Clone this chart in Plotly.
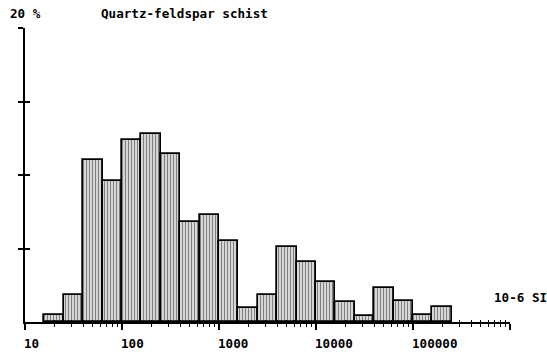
import math
import plotly.graph_objects as go

# Bin lower edges (10^-6 SI), bins are 0.2 decade wide
bin_lower = [15.8, 25.1, 39.8, 63.1, 100, 158, 251, 398, 631, 1000, 1585, 2512,
             3981, 6310, 10000, 15849, 25119, 39811, 63096, 100000, 158489]
percent = [0.46, 1.87, 11.0, 9.6, 12.4, 12.8, 11.4, 6.8, 7.3, 5.5, 0.98, 1.82,
           5.1, 4.1, 2.7, 1.36, 0.41, 2.3, 1.41, 0.46, 1.02]
bin_width_decades = 0.2

decade_values = [10, 100, 1000, 10000, 100000, 1000000]
decade_labels = ["10", "100", "1000", "10000", "100000"]
y_ticks = [5, 10, 15, 20]

title_text = "Quartz-feldspar schist"
y_unit_text = "20 %"
x_unit_text = "10-6 SI"

FONT = dict(family="DejaVu Sans Mono", size=12.6, color="black")

centers = [math.log10(v) + bin_width_decades / 2 for v in bin_lower]
minor_vals = [math.log10(k * d) for d in decade_values[:-1] for k in range(2, 10)]
major_vals = [math.log10(v) for v in decade_values]

fig = go.Figure()
fig.add_trace(go.Bar(
    x=centers, y=percent, width=bin_width_decades,
    marker=dict(color="white",
                line=dict(color="black", width=1.7),
                pattern=dict(shape="|", fgcolor="black", bgcolor="white",
                             size=3, solidity=0.55)),
    showlegend=False, hoverinfo="skip"))
# invisible trace to activate the overlay axes (upper halves of the crossing ticks)
fig.add_trace(go.Scatter(x=[1], y=[0], xaxis="x2", yaxis="y2", mode="markers",
                         marker=dict(opacity=0), showlegend=False,
                         hoverinfo="skip"))

fig.update_layout(
    width=547, height=355,
    margin=dict(l=25, r=37, t=28, b=33),
    paper_bgcolor="white", plot_bgcolor="white",
    bargap=0,
    xaxis=dict(range=[1, 6], showgrid=False, zeroline=False,
               showline=True, linecolor="black", linewidth=2,
               tickvals=major_vals,
               ticks="outside", ticklen=6, tickwidth=1.5, tickcolor="black",
               showticklabels=False,
               minor=dict(tickvals=minor_vals, ticks="outside", ticklen=3,
                          tickwidth=1.2, tickcolor="black")),
    xaxis2=dict(range=[1, 6], overlaying="x", side="bottom", anchor="y2",
                showgrid=False, zeroline=False, showline=False,
                tickvals=minor_vals + [6], ticks="inside", ticklen=2,
                tickwidth=1.2, tickcolor="black", showticklabels=False),
    yaxis=dict(range=[0, 20], showgrid=False, zeroline=False,
               showline=True, linecolor="black", linewidth=2,
               tickvals=y_ticks, ticks="outside", ticklen=5, tickwidth=1.5,
               tickcolor="black", showticklabels=False),
    yaxis2=dict(range=[0, 20], overlaying="y", side="left", anchor="x2",
                showgrid=False, zeroline=False, showline=False,
                tickvals=y_ticks, ticks="inside", ticklen=5, tickwidth=1.5,
                tickcolor="black", showticklabels=False),
    font=FONT,
)

for v, lab in zip(decade_values, decade_labels):
    fig.add_annotation(x=math.log10(v), y=0, xref="x", yref="y",
                       text="<b>%s</b>" % lab, showarrow=False,
                       xanchor="left", yanchor="middle", yshift=-21, xshift=-3,
                       font=FONT)

fig.add_annotation(x=math.log10(650000), y=1.7, xref="x", yref="y",
                   text="<b>%s</b>" % x_unit_text, showarrow=False,
                   xanchor="left", yanchor="middle", font=FONT)
fig.add_annotation(x=(8 - 25) / 485, y=(355 - 33 - 14) / 294,
                   xref="paper", yref="paper",
                   text="<b>%s</b>" % y_unit_text, showarrow=False,
                   xanchor="left", yanchor="middle", font=FONT)
fig.add_annotation(x=(99 - 25) / 485, y=(355 - 33 - 14) / 294,
                   xref="paper", yref="paper",
                   text="<b>%s</b>" % title_text, showarrow=False,
                   xanchor="left", yanchor="middle", font=FONT)

fig.write_html("out.html")
